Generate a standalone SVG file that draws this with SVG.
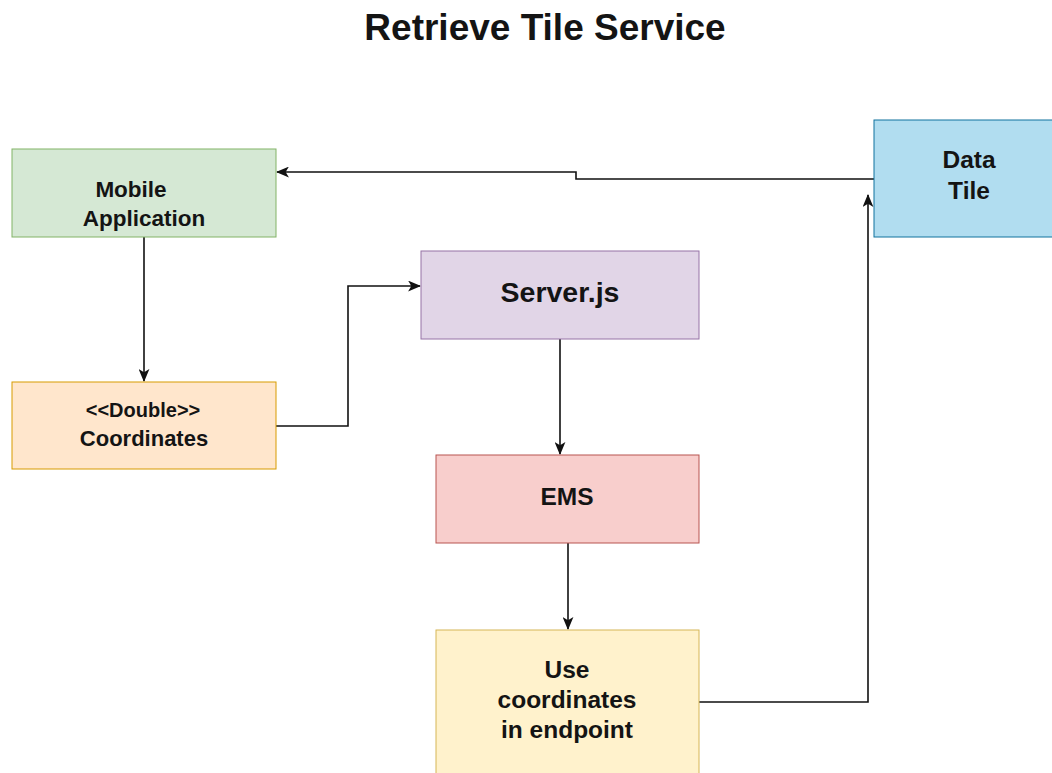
<svg xmlns="http://www.w3.org/2000/svg" width="1052" height="773" viewBox="0 0 1052 773">
<defs>
<marker id="arr" viewBox="0 0 12 10" refX="11" refY="5" markerWidth="13" markerHeight="11" markerUnits="userSpaceOnUse" orient="auto">
<path d="M0,0 L12,5 L0,10 L3,5 Z" fill="#111"/>
</marker>
<style>
.lbl{font-family:"Liberation Sans",Arial,sans-serif;font-weight:bold;fill:#141414;text-anchor:middle}
.edge{fill:none;stroke:#111;stroke-width:1.6}
</style>
</defs>
<rect width="1052" height="773" fill="#ffffff"/>
<text class="lbl" x="545" y="40" font-size="37">Retrieve Tile Service</text>
<g id="connectors">
<path class="edge" d="M874,179 L576,179 L576,172 L277,172" marker-end="url(#arr)"/>
<path class="edge" d="M144,237 L144,381" marker-end="url(#arr)"/>
<path class="edge" d="M276,426 L348,426 L348,286 L420,286" marker-end="url(#arr)"/>
<path class="edge" d="M560,339 L560,454" marker-end="url(#arr)"/>
<path class="edge" d="M568,543 L568,629" marker-end="url(#arr)"/>
<path class="edge" d="M699,702 L868,702 L868,195" marker-end="url(#arr)"/>
</g>
<g id="mobile">
<rect x="12" y="149" width="264" height="88" fill="#d5e8d4" stroke="#82b366"/>
<text class="lbl" x="131" y="197" font-size="22.5">Mobile</text>
<text class="lbl" x="144" y="226" font-size="22.5">Application</text>
</g>
<g id="coordinates">
<rect x="12" y="382" width="264" height="87" fill="#ffe6cc" stroke="#d79b00"/>
<text class="lbl" x="143" y="417" font-size="20">&lt;&lt;Double&gt;&gt;</text>
<text class="lbl" x="144" y="446" font-size="22">Coordinates</text>
</g>
<g id="server">
<rect x="421" y="251" width="278" height="88" fill="#e1d5e7" stroke="#9673a6"/>
<text class="lbl" x="560" y="302" font-size="28.5">Server.js</text>
</g>
<g id="ems">
<rect x="436" y="455" width="263" height="88" fill="#f8cecc" stroke="#b85450"/>
<text class="lbl" x="567" y="505" font-size="24.5">EMS</text>
</g>
<g id="use">
<rect x="436" y="630" width="263" height="150" fill="#fff2cc" stroke="#d6b656"/>
<text class="lbl" x="567" y="678" font-size="24.5">Use</text>
<text class="lbl" x="567" y="708" font-size="24.5">coordinates</text>
<text class="lbl" x="567" y="738" font-size="24.5">in endpoint</text>
</g>
<g id="datatile">
<rect x="874" y="120" width="185" height="117" fill="#b1ddf0" stroke="#10739e"/>
<text class="lbl" x="969" y="168" font-size="24.5">Data</text>
<text class="lbl" x="969" y="199" font-size="24.5">Tile</text>
</g>
</svg>
